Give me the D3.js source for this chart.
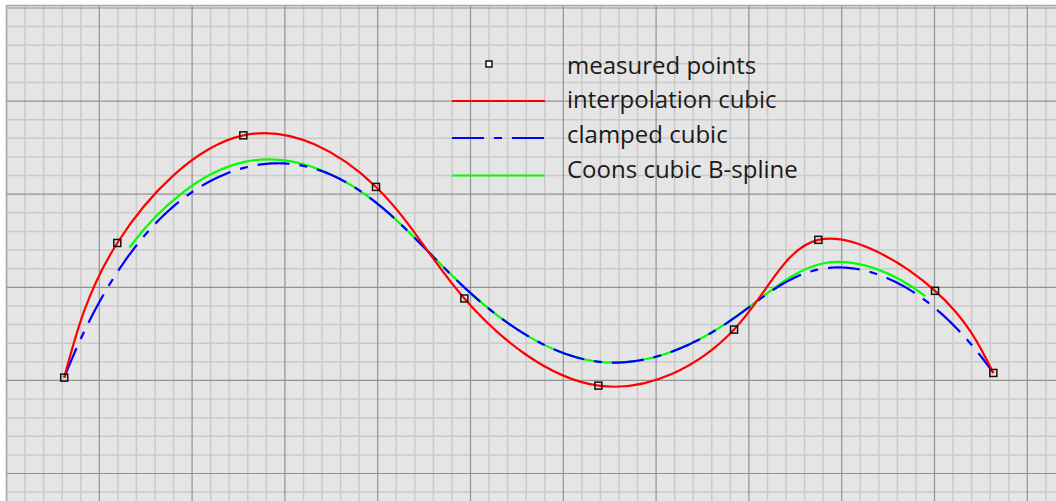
<!DOCTYPE html>
<html>
<head>
<meta charset="utf-8">
<script src="https://cdn.jsdelivr.net/npm/d3@7"></script>
<style>
  body { margin: 0; background: #fff; }
  svg { display: block; }
</style>
</head>
<body>
<svg id="chart" width="1056" height="501"></svg>
<script>
// measured points, in grid units (1 unit = one small grid cell)
var ptX = [3.11, 5.97, 12.76, 19.91, 24.67, 31.89, 39.20, 43.74, 50.03, 53.17];
var ptY = [5.15, 12.38, 18.16, 15.39, 9.40, 4.72, 7.73, 12.55, 9.81, 5.40];
var legendLabels = ["measured points", "interpolation cubic", "clamped cubic", "Coons cubic B-spline"];

var W = 1056, H = 501;
var svg = d3.select("#chart");

var x = d3.scaleLinear().domain([0, 50]).range([6.5, 934.5]);
var y = d3.scaleLinear().domain([0, 25]).range([473.5, 8]);

var pts = ptX.map(function(d, i) { return [ptX[i], ptY[i]]; });

//background + grid
svg.append("rect").attr("x", 6).attr("y", 5).attr("width", W - 6).attr("height", H - 5).attr("fill", "#e5e5e5");

var grid = svg.append("g");
var gx = d3.range(0, 57), gy = d3.range(-1, 26);
// minor first, major on top
grid.selectAll(".vmin").data(gx.filter(function(d) { return d % 5 != 0; })).enter().append("line")
  .attr("x1", function(d) { return x(d); }).attr("x2", function(d) { return x(d); })
  .attr("y1", 5).attr("y2", H)
  .attr("stroke", "#cacaca").attr("stroke-width", 1.5);
grid.selectAll(".hmin").data(gy.filter(function(d) { return d % 5 != 0; })).enter().append("line")
  .attr("y1", function(d) { return y(d); }).attr("y2", function(d) { return y(d); })
  .attr("x1", 6).attr("x2", W)
  .attr("stroke", "#cacaca").attr("stroke-width", 1.5);
grid.selectAll(".vmaj").data(gx.filter(function(d) { return d % 5 == 0; })).enter().append("line")
  .attr("x1", function(d) { return x(d); }).attr("x2", function(d) { return x(d); })
  .attr("y1", 5).attr("y2", H)
  .attr("stroke", "#929292").attr("stroke-width", 1.2);
grid.selectAll(".hmaj").data(gy.filter(function(d) { return d % 5 == 0; })).enter().append("line")
  .attr("y1", function(d) { return y(d); }).attr("y2", function(d) { return y(d); })
  .attr("x1", 6).attr("x2", W)
  .attr("stroke", "#929292").attr("stroke-width", 1.2);
// frame top / left
svg.append("line").attr("x1", 6).attr("x2", W).attr("y1", 5.5).attr("y2", 5.5).attr("stroke", "#a8a8a8").attr("stroke-width", 1.5);
svg.append("line").attr("x1", 6.5).attr("x2", 6.5).attr("y1", 5).attr("y2", H).attr("stroke", "#a8a8a8").attr("stroke-width", 1.5);

// clamped cubic B-spline (open uniform knots), de Boor
function clampedBspline(P, samples) {
  var p = 3, n = P.length;
  var knots = [];
  for (var i = 0; i < n + p + 1; i++) {
    if (i <= p) knots.push(0);
    else if (i >= n) knots.push(n - p);
    else knots.push(i - p);
  }
  var tMax = n - p, out = [];
  for (var s = 0; s <= samples; s++) {
    var t = tMax * s / samples;
    var k = p;
    while (k < n - 1 && knots[k + 1] <= t) k++;
    var d = [];
    for (var j = 0; j <= p; j++) d.push(P[k - p + j].slice());
    for (var r = 1; r <= p; r++) {
      for (var j = p; j >= r; j--) {
        var ii = j + k - p;
        var a = (t - knots[ii]) / (knots[ii + p - r + 1] - knots[ii]);
        d[j] = [(1 - a) * d[j - 1][0] + a * d[j][0], (1 - a) * d[j - 1][1] + a * d[j][1]];
      }
    }
    out.push(d[p]);
  }
  return out;
}

var lineNatural = d3.line().x(function(d) { return x(d[0]); }).y(function(d) { return y(d[1]); }).curve(d3.curveNatural);
var lineOpen = d3.line().x(function(d) { return x(d[0]); }).y(function(d) { return y(d[1]); }).curve(d3.curveBasisOpen);
var lineLin = d3.line().x(function(d) { return x(d[0]); }).y(function(d) { return y(d[1]); });

var curves = svg.append("g").attr("fill", "none").attr("stroke-linecap", "butt").attr("stroke-linejoin", "round");

curves.append("path").attr("d", lineOpen(pts)).attr("stroke", "#00ff00").attr("stroke-width", 2.2);
curves.append("path").attr("d", lineLin(clampedBspline(pts, 400))).attr("stroke", "#0000ff").attr("stroke-width", 2.2)
  .attr("stroke-dasharray", "32,10,8,10");
curves.append("path").attr("d", lineNatural(pts)).attr("stroke", "#ff0000").attr("stroke-width", 2.2);

svg.append("g").selectAll("rect").data(pts).enter().append("rect")
  .attr("x", function(d) { return x(d[0]) - 3.5; })
  .attr("y", function(d) { return y(d[1]) - 3.5; })
  .attr("width", 7).attr("height", 7)
  .attr("fill", "none").attr("stroke", "#111").attr("stroke-width", 1.5);

//legend
var lg = svg.append("g");
lg.append("rect").attr("x", 486).attr("y", 61).attr("width", 6).attr("height", 6)
  .attr("fill", "#fff").attr("stroke", "#111").attr("stroke-width", 1.5);
var legendLines = [
  {y: 101, c: "#ff0000", dash: null},
  {y: 138, c: "#0000ff", dash: "32,10,8,10"},
  {y: 175.5, c: "#00ff00", dash: null}
];
legendLines.forEach(function(l) {
  lg.append("line").attr("x1", 452).attr("x2", 545).attr("y1", l.y).attr("y2", l.y)
    .attr("stroke", l.c).attr("stroke-width", 2.2).attr("stroke-dasharray", l.dash);
});
var baselines = [74, 108, 143, 178];
lg.selectAll("text").data(legendLabels).enter().append("text")
  .attr("x", 567).attr("y", function(d, i) { return baselines[i]; })
  .attr("font-family", "'Open Sans', 'Noto Sans', sans-serif").attr("font-size", 24)
  .attr("fill", "#1a1a1a")
  .text(function(d) { return d; });
</script>
</body>
</html>
